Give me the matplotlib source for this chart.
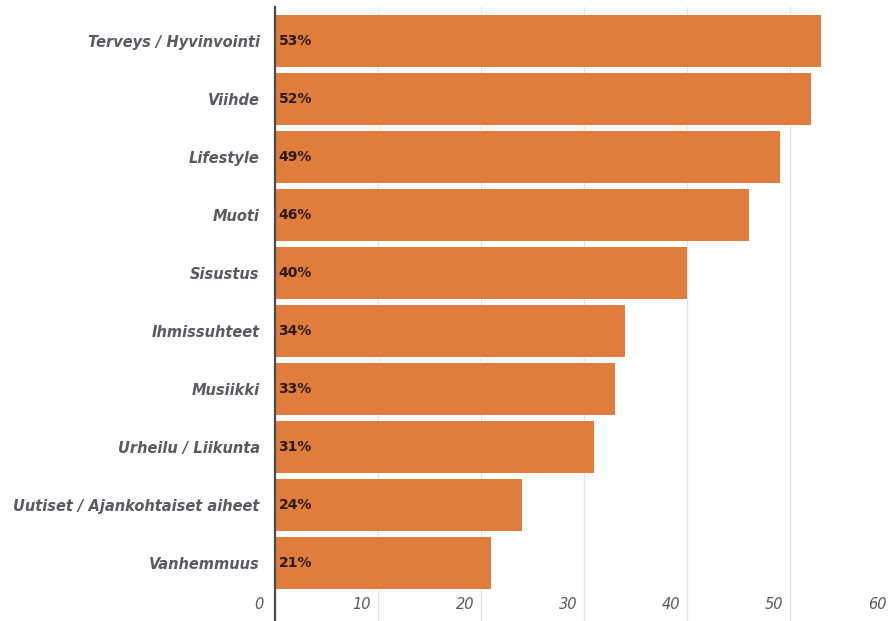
import matplotlib
matplotlib.use('agg')
import matplotlib.pyplot as plt
from matplotlib.transforms import ScaledTranslation

# Aiheet ja osuudet (%)
categories = ["Terveys / Hyvinvointi", "Viihde", "Lifestyle", "Muoti", "Sisustus",
              "Ihmissuhteet", "Musiikki", "Urheilu / Liikunta",
              "Uutiset / Ajankohtaiset aiheet", "Vanhemmuus"]
values = [53, 52, 49, 46, 40, 34, 33, 31, 24, 21]
xticks = [0, 10, 20, 30, 40, 50, 60]

bar_color = "#E17D3C"
text_gray = "#5a5a60"

fig = plt.figure(figsize=(8.92, 6.21), dpi=100)
W, H = 892, 621
# axes run from x=0 at the left spine to 60 at the right edge, full height
ax = fig.add_axes([275 / W, 0, 618 / W, 614 / H])

ypos = list(range(len(categories)))
ax.barh(ypos, values, height=0.88, color=bar_color, zorder=2)

# top of axes 34 px above first bar centre, 58 px per category
ax.set_ylim(-0.586 + 614 / 58, -0.586)
ax.set_xlim(0, 60)

ax.set_yticks(ypos)
ax.set_yticklabels(categories, fontsize=10.5, fontweight="bold", style="italic",
                   color=text_gray)
ax.tick_params(axis="y", length=0, pad=11)

ax.set_xticks(xticks)
ax.set_xticklabels([str(t) for t in xticks], fontsize=10.5, style="italic",
                   color=text_gray)
ax.tick_params(axis="x", length=0, pad=-17)
shift = ScaledTranslation(-16 / 100, 0, fig.dpi_scale_trans)
for lab in ax.get_xticklabels():
    lab.set_transform(lab.get_transform() + shift)

ax.grid(axis="x", color="#e4e4e4", linewidth=0.9, zorder=0)
ax.set_axisbelow(True)

for s in ["top", "right", "bottom"]:
    ax.spines[s].set_visible(False)
ax.spines["left"].set_color("#4a4a50")
ax.spines["left"].set_linewidth(1.6)
ax.spines["left"].set_zorder(3)

for y, v in zip(ypos, values):
    ax.text(0.35, y, f"{v}%", va="center", ha="left", fontsize=10,
            fontweight="bold", color="#2a1a12", zorder=4)

fig.savefig("out.png", dpi=100)
